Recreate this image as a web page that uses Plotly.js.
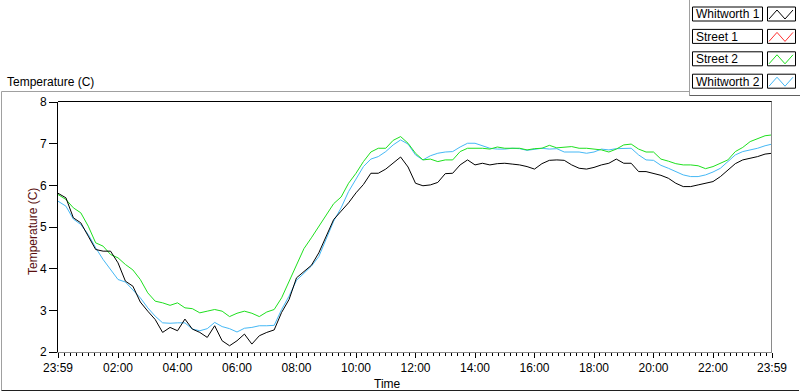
<!DOCTYPE html>
<html><head><meta charset="utf-8">
<script src="https://cdn.plot.ly/plotly-3.0.1.min.js"></script>
<style>html,body{margin:0;padding:0;background:#fff;overflow:hidden}#chart{width:800px;height:392px}</style>
</head><body><div id="chart"></div>
<script>
// ---- data ----
const times = ["23:59","00:15","00:30","00:45","01:00","01:15","01:30","01:45","02:00","02:15","02:30","02:45",
"03:00","03:15","03:30","03:45","04:00","04:15","04:30","04:45","05:00","05:15","05:30","05:45",
"06:00","06:15","06:30","06:45","07:00","07:15","07:30","07:45","08:00","08:15","08:30","08:45",
"09:00","09:15","09:30","09:45","10:00","10:15","10:30","10:45","11:00","11:15","11:30","11:45",
"12:00","12:15","12:30","12:45","13:00","13:15","13:30","13:45","14:00","14:15","14:30","14:45",
"15:00","15:15","15:30","15:45","16:00","16:15","16:30","16:45","17:00","17:15","17:30","17:45",
"18:00","18:15","18:30","18:45","19:00","19:15","19:30","19:45","20:00","20:15","20:30","20:45",
"21:00","21:15","21:30","21:45","22:00","22:15","22:30","22:45","23:00","23:15","23:30","23:45","23:59"];

const whitworth1 = [5.81,5.70,5.22,5.10,4.78,4.46,4.42,4.42,4.14,3.70,3.58,3.20,
2.98,2.78,2.47,2.59,2.51,2.79,2.55,2.47,2.35,2.63,2.27,2.15,
2.27,2.43,2.19,2.39,2.47,2.53,2.95,3.26,3.78,3.94,4.08,4.38,
4.78,5.18,5.38,5.58,5.82,6.02,6.29,6.29,6.39,6.53,6.68,6.44,
6.05,5.99,6.01,6.07,6.28,6.29,6.49,6.61,6.49,6.53,6.49,6.52,
6.53,6.51,6.49,6.45,6.39,6.52,6.60,6.61,6.60,6.49,6.41,6.39,
6.43,6.49,6.53,6.63,6.53,6.53,6.33,6.33,6.29,6.24,6.17,6.05,
5.97,5.97,6.01,6.05,6.09,6.21,6.37,6.52,6.61,6.65,6.69,6.75,6.77];

const street1 = [];

const street2 = [5.78,5.66,5.46,5.34,5.02,4.62,4.54,4.34,4.26,4.10,3.97,3.74,
3.42,3.22,3.18,3.12,3.18,3.06,3.04,2.94,2.98,3.02,2.98,2.85,
2.93,2.98,2.93,2.85,2.96,3.02,3.30,3.70,4.10,4.48,4.74,5.02,
5.30,5.56,5.72,6.05,6.29,6.57,6.80,6.89,6.89,7.08,7.17,7.01,
6.77,6.61,6.63,6.57,6.61,6.61,6.81,6.89,6.89,6.89,6.87,6.92,
6.89,6.89,6.89,6.85,6.88,6.89,6.96,6.90,6.92,6.93,6.89,6.89,
6.87,6.85,6.80,6.87,6.97,6.99,6.87,6.80,6.80,6.63,6.58,6.52,
6.49,6.49,6.47,6.40,6.45,6.53,6.61,6.81,6.91,7.05,7.12,7.19,7.21];

const whitworth2 = [5.62,5.50,5.19,5.06,4.82,4.50,4.22,3.98,3.74,3.68,3.50,3.30,
3.06,2.86,2.70,2.69,2.70,2.70,2.55,2.51,2.56,2.71,2.61,2.56,
2.48,2.57,2.59,2.63,2.63,2.64,3.02,3.34,3.72,3.89,4.06,4.29,
4.70,5.14,5.46,5.85,6.15,6.45,6.63,6.69,6.81,6.97,7.09,6.99,
6.73,6.61,6.71,6.77,6.80,6.81,6.92,7.01,7.01,6.95,6.89,6.87,
6.87,6.89,6.88,6.84,6.87,6.89,6.87,6.88,6.80,6.80,6.80,6.77,
6.80,6.87,6.85,6.88,6.89,6.89,6.73,6.61,6.60,6.48,6.41,6.33,
6.25,6.21,6.21,6.25,6.32,6.41,6.57,6.73,6.81,6.85,6.89,6.95,6.99];

const seriesNames = ["Whitworth 1","Street 1","Street 2","Whitworth 2"];
const xTickLabels = ["23:59","02:00","04:00","06:00","08:00","10:00","12:00","14:00","16:00","18:00","20:00","22:00","23:59"];
const yTickValues = [2,3,4,5,6,7,8];

// ---- helpers ----
function toDate(t, i){ return (i === 0 ? "2024-01-01 " : "2024-01-02 ") + t + ":00"; }
const x = times.map(toDate);
const xTickVals = xTickLabels.map(toDate);

const W = 800, H = 392, ML = 58, MR = 28, MT = 102, MB = 40;
const PW = W - ML - MR, PH = H - MT - MB;
const px = v => (v - ML) / PW;
const py = v => (H - MB - v) / PH;

const colors = ["#000000","#ff3030","#1ee01e","#45b8f5"];
const FONT = "Liberation Sans, Arial, sans-serif";

const seriesData = [whitworth1, street1, street2, whitworth2];
const drawOrder = [3, 1, 2, 0];
const traces = drawOrder.map(k => ({
  type: "scatter", mode: "lines", name: seriesNames[k],
  x: x.slice(0, seriesData[k].length), y: seriesData[k],
  line: {color: colors[k], width: 1}, showlegend: false, hoverinfo: "skip"
}));

const shapes = [];
const annotations = [];
function line(x0,y0,x1,y1,color){
  shapes.push({type:"line", xref:"paper", yref:"paper", x0:px(x0), y0:py(y0), x1:px(x1), y1:py(y1),
    line:{color:color, width:1}});
}
// outer frame
line(1.5, 91.5, 1.5, 390.5, "#a0a0a0");
line(1.5, 91.5, 689.5, 91.5, "#a0a0a0");
line(1.5, 390.5, 799, 390.5, "#202020");
// plot frame top / right
line(58, 101.5, 772, 101.5, "#000000");
line(771.5, 101.5, 771.5, 353, "#8a8a8a");
// legend container
line(689.5, 0, 689.5, 95.5, "#a0a0a0");
line(689.5, 95.5, 800, 95.5, "#606060");

seriesNames.forEach((name, i) => {
  const top = 7 + i * 22.4;
  shapes.push({type:"rect", xref:"paper", yref:"paper", x0:px(692.5), x1:px(762.5), y0:py(top), y1:py(top+14),
    line:{color:"#000", width:1}, fillcolor:"#fff"});
  shapes.push({type:"rect", xref:"paper", yref:"paper", x0:px(767.5), x1:px(795.5), y0:py(top), y1:py(top+14),
    line:{color:"#000", width:1}, fillcolor:"#fff"});
  const p = `M ${px(769)},${py(top+12)} L ${px(777)},${py(top+3)} L ${px(785)},${py(top+12)} L ${px(793)},${py(top+3)}`;
  shapes.push({type:"path", xref:"paper", yref:"paper", path:p, line:{color:colors[i], width:1}});
  annotations.push({xref:"paper", yref:"paper", x:px(694), y:py(top+7.5), xanchor:"left", yanchor:"middle",
    text:name, showarrow:false, font:{family:FONT, size:12, color:"#000"}});
});

// chart label top-left
annotations.push({xref:"paper", yref:"paper", x:px(5), y:py(82), xanchor:"left", yanchor:"middle",
  text:"Temperature (C)", showarrow:false, font:{family:FONT, size:12, color:"#000"}});
// axis names
annotations.push({xref:"paper", yref:"paper", x:px(387), y:py(384), xanchor:"center", yanchor:"middle",
  text:"Time", showarrow:false, font:{family:FONT, size:12, color:"#000"}});
annotations.push({xref:"paper", yref:"paper", x:px(33), y:py(232), xanchor:"center", yanchor:"middle",
  text:"Temperature (C)", textangle:-90, showarrow:false, font:{family:FONT, size:12, color:"#5a0f0f"}});

const layout = {
  width: W, height: H,
  margin: {l: ML, r: MR, t: MT, b: MB, pad: 0},
  paper_bgcolor: "#fff", plot_bgcolor: "#fff",
  font: {family: FONT, size: 12, color: "#000"},
  xaxis: {
    type: "date", range: [x[0], x[x.length-1]],
    tickmode: "array", tickvals: xTickVals, ticktext: xTickLabels,
    ticks: "outside", ticklen: 5, tickcolor: "#000", tickwidth: 1,
    showline: true, linecolor: "#8a8a8a", linewidth: 1,
    showgrid: false, zeroline: false, fixedrange: true,
    minor: {ticks: "outside", ticklen: 3, tickcolor: "#000", tickwidth: 1, dtick: 720000, tick0: "2024-01-02 00:00:00", showgrid: false},
    tickfont: {family: FONT, size: 12, color: "#000"}
  },
  yaxis: {
    range: [2, 8], tickmode: "array", tickvals: yTickValues,
    ticks: "outside", ticklen: 8, tickcolor: "#000", tickwidth: 1,
    showline: true, linecolor: "#000", linewidth: 1,
    showgrid: false, zeroline: false, fixedrange: true,
    tickfont: {family: FONT, size: 12, color: "#000"}
  },
  shapes: shapes,
  annotations: annotations,
  showlegend: false,
  hovermode: false
};

Plotly.newPlot("chart", traces, layout, {displayModeBar: false, staticPlot: true});
</script>
</body></html>
